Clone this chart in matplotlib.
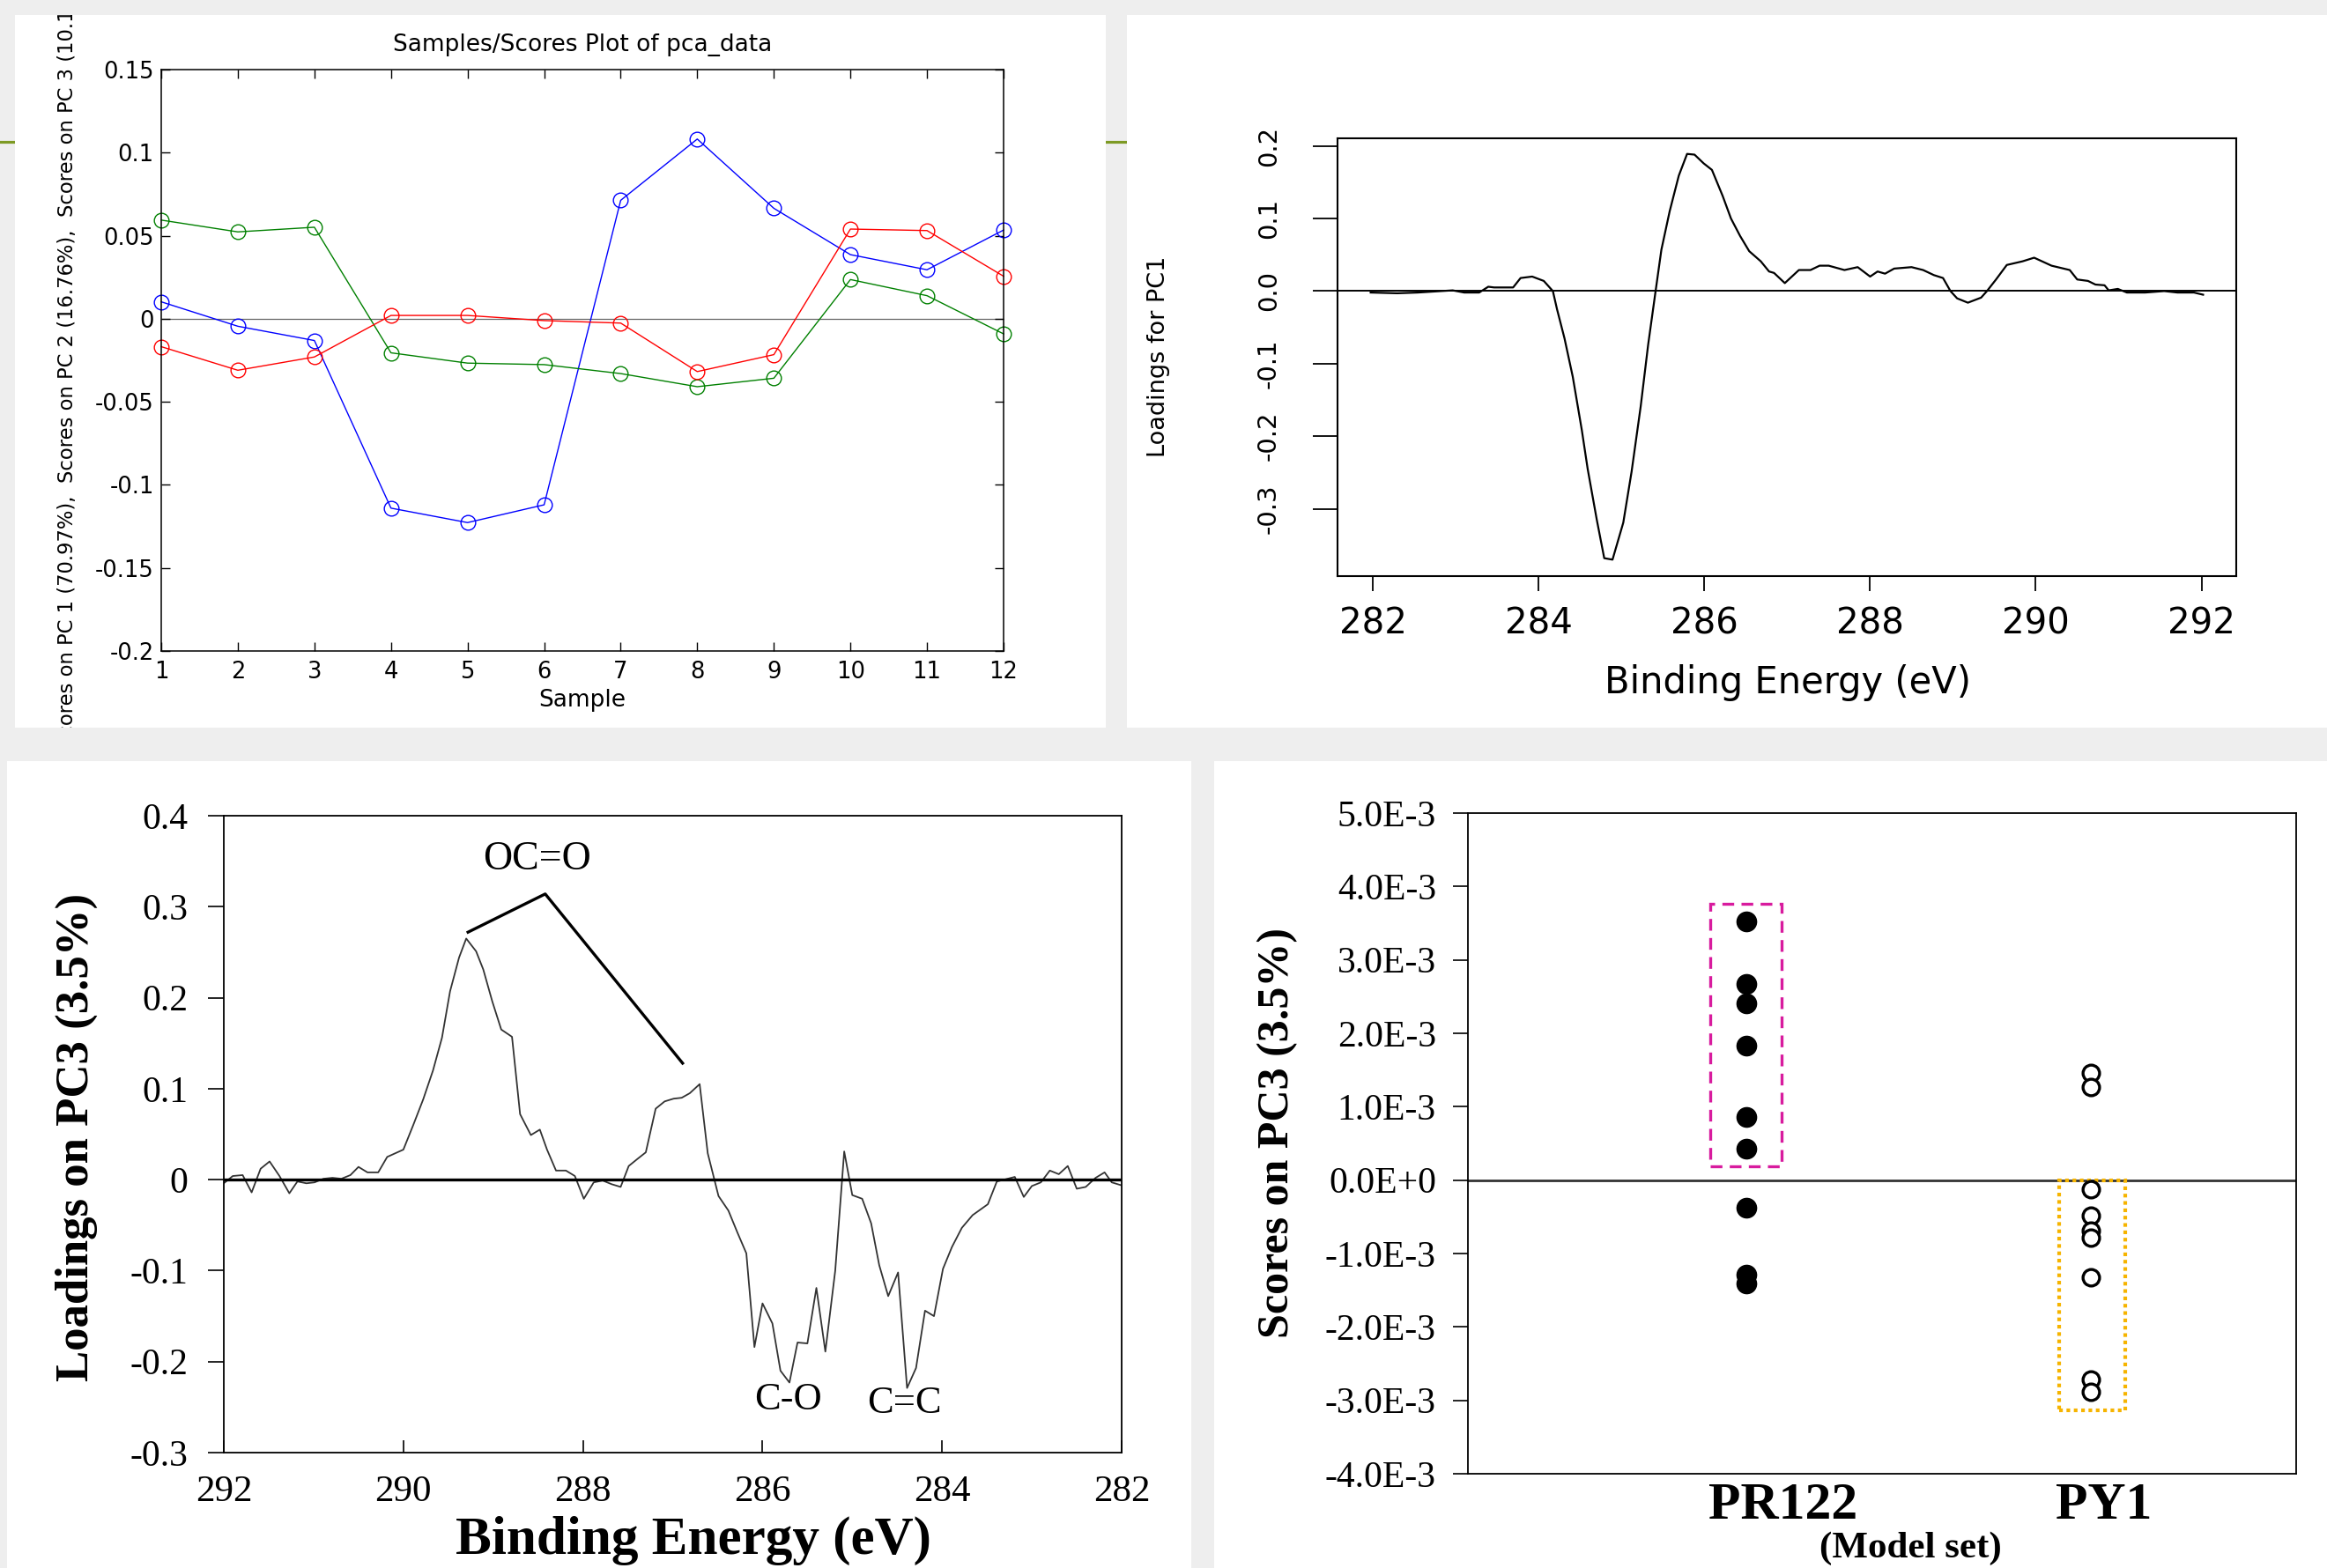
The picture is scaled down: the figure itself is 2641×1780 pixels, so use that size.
import matplotlib
matplotlib.use("Agg")
import matplotlib.pyplot as plt
from matplotlib.patches import Rectangle
from matplotlib.lines import Line2D
from matplotlib.transforms import Bbox, TransformedBbox

plt.rcParams['font.family'] = 'DejaVu Sans'
plt.rcParams['axes.unicode_minus'] = False

W, H = 2641, 1780

# --- panel 1: MATLAB scores plot
samples = list(range(1, 13))
pc1_scores = [0.0102, -0.0045, -0.0131, -0.114, -0.1227, -0.112, 0.0713, 0.1082, 0.0665, 0.0386, 0.0295, 0.0534]
pc2_scores = [0.0594, 0.0523, 0.0551, -0.0205, -0.0267, -0.0276, -0.033, -0.0409, -0.0358, 0.0236, 0.0139, -0.0091]
pc3_scores = [-0.0168, -0.031, -0.023, 0.002, 0.002, -0.0011, -0.0026, -0.0318, -0.0216, 0.054, 0.0531, 0.0256]
p1_yticks = [-0.2, -0.15, -0.1, -0.05, 0, 0.05, 0.1, 0.15]
p1_ylabels = ['-0.2', '-0.15', '-0.1', '-0.05', '0', '0.05', '0.1', '0.15']

# --- panel 2: PC1 loadings (R plot)
pc1_energy = [281.97, 282.29, 282.54, 282.96, 283.10, 283.28, 283.39, 283.46, 283.69, 283.78,
              283.92, 284.06, 284.17, 284.22, 284.31, 284.41, 284.52, 284.59, 284.70, 284.79,
              284.89, 285.02, 285.12, 285.23, 285.32, 285.41, 285.48, 285.58, 285.69, 285.79,
              285.88, 285.99, 286.09, 286.22, 286.32, 286.43, 286.54, 286.68, 286.78, 286.84,
              286.97, 287.14, 287.28, 287.39, 287.50, 287.69, 287.85, 288.00, 288.09, 288.18,
              288.29, 288.50, 288.64, 288.77, 288.88, 288.97, 289.05, 289.18, 289.34, 289.41,
              289.52, 289.65, 289.84, 289.98, 290.19, 290.41, 290.50, 290.63, 290.72, 290.83,
              290.88, 290.99, 291.10, 291.32, 291.55, 291.71, 291.91, 292.02]
pc1_loading = [-0.002, -0.003, -0.002, 0.001, -0.002, -0.002, 0.006, 0.005, 0.005, 0.018,
               0.020, 0.014, 0.000, -0.025, -0.065, -0.118, -0.192, -0.245, -0.315, -0.368,
               -0.370, -0.319, -0.249, -0.159, -0.074, 0.000, 0.057, 0.110, 0.159, 0.189,
               0.188, 0.176, 0.167, 0.131, 0.100, 0.076, 0.055, 0.041, 0.027, 0.025,
               0.011, 0.029, 0.029, 0.035, 0.035, 0.029, 0.033, 0.020, 0.027, 0.024,
               0.031, 0.033, 0.029, 0.022, 0.018, 0.000, -0.010, -0.016, -0.009, 0.000,
               0.016, 0.036, 0.041, 0.046, 0.035, 0.029, 0.016, 0.014, 0.009, 0.008,
               0.001, 0.003, -0.002, -0.002, 0.000, -0.002, -0.002, -0.005]
p2_yticks = [-0.3, -0.2, -0.1, 0.0, 0.1, 0.2]
p2_ylabels = ['-0.3', '-0.2', '-0.1', '0.0', '0.1', '0.2']

# --- panel 3: PC3 loadings (Excel plot)
pc3_energy = [292.00, 291.90, 291.79, 291.69, 291.59, 291.49, 291.38, 291.27, 291.18, 291.08,
              290.99, 290.89, 290.79, 290.69, 290.59, 290.50, 290.40, 290.28, 290.18, 290.00,
              289.89, 289.78, 289.67, 289.57, 289.48, 289.38, 289.30, 289.19, 289.11, 289.01,
              288.91, 288.79, 288.70, 288.58, 288.48, 288.40, 288.30, 288.19, 288.09, 287.99,
              287.88, 287.78, 287.68, 287.58, 287.49, 287.39, 287.30, 287.19, 287.09, 286.99,
              286.90, 286.81, 286.70, 286.61, 286.49, 286.38, 286.28, 286.18, 286.09, 286.00,
              285.89, 285.80, 285.70, 285.61, 285.50, 285.40, 285.30, 285.19, 285.09, 285.00,
              284.89, 284.79, 284.70, 284.60, 284.49, 284.39, 284.29, 284.19, 284.09, 283.99,
              283.89, 283.78, 283.66, 283.49, 283.39, 283.19, 283.09, 283.00, 282.90, 282.80,
              282.70, 282.60, 282.50, 282.40, 282.29, 282.19, 282.11, 282.01]
pc3_loading = [-0.004, 0.004, 0.005, -0.014, 0.012, 0.020, 0.004, -0.015, -0.002, -0.004,
               -0.003, 0.001, 0.002, 0.001, 0.005, 0.014, 0.008, 0.008, 0.025, 0.033,
               0.060, 0.088, 0.120, 0.156, 0.207, 0.244, 0.265, 0.251, 0.231, 0.196,
               0.165, 0.157, 0.072, 0.049, 0.055, 0.033, 0.010, 0.010, 0.004, -0.021,
               -0.003, -0.001, -0.005, -0.008, 0.015, 0.023, 0.030, 0.078, 0.086, 0.089,
               0.090, 0.095, 0.105, 0.029, -0.018, -0.034, -0.058, -0.081, -0.184, -0.136,
               -0.158, -0.210, -0.223, -0.179, -0.180, -0.119, -0.189, -0.100, 0.031, -0.017,
               -0.021, -0.048, -0.094, -0.128, -0.102, -0.229, -0.207, -0.144, -0.150, -0.098,
               -0.074, -0.053, -0.039, -0.027, -0.002, 0.003, -0.019, -0.007, -0.003, 0.010,
               0.006, 0.015, -0.010, -0.008, 0.002, 0.008, -0.003, -0.006]
ocoo_leader_x = [289.28, 288.42, 286.89]
ocoo_leader_y = [0.272, 0.314, 0.128]
p3_yticks = [-0.3, -0.2, -0.1, 0, 0.1, 0.2, 0.3, 0.4]
p3_ylabels = ['-0.3', '-0.2', '-0.1', '0', '0.1', '0.2', '0.3', '0.4']

# --- panel 4: PC3 scores per model set
groups = ['PR122', 'PY1']
pr122_scores = [3.52e-3, 2.67e-3, 2.41e-3, 1.83e-3, 0.86e-3, 0.43e-3, -0.38e-3, -1.29e-3, -1.41e-3]
py1_scores = [1.46e-3, 1.27e-3, -0.12e-3, -0.48e-3, -0.69e-3, -0.79e-3, -1.32e-3, -2.72e-3, -2.89e-3]
p4_yticks = [-4e-3, -3e-3, -2e-3, -1e-3, 0, 1e-3, 2e-3, 3e-3, 4e-3, 5e-3]
p4_ylabels = ['-4.0E-3', '-3.0E-3', '-2.0E-3', '-1.0E-3', '0.0E+0',
              '1.0E-3', '2.0E-3', '3.0E-3', '4.0E-3', '5.0E-3']

SERIF = 'Liberation Serif'

fig = plt.figure(figsize=(W / 100, H / 100), dpi=100)
fig.patch.set_facecolor('#eeeeee')


def fx(x):
    return x / W


def fy(y):
    return 1 - y / H


def px_axes(x0, y0, x1, y1):
    return fig.add_axes([fx(x0), fy(y1), (x1 - x0) / W, (y1 - y0) / H])


# slide decoration: olive rule and white picture frames
fig.add_artist(Line2D([0, 1], [fy(160.5), fy(160.5)], transform=fig.transFigure,
                      color='#7d9a24', lw=2.3, zorder=-10))
frames = [(17, 17, 1255, 826), (1279, 17, 2641, 826), (8, 864, 1352, 1780), (1378, 864, 2641, 1780)]
for x0, y0, x1, y1 in frames:
    fig.add_artist(Rectangle((fx(x0), fy(y1)), (x1 - x0) / W, (y1 - y0) / H,
                             transform=fig.transFigure, facecolor='white',
                             edgecolor='none', zorder=-5))

# ---------------- panel 1
ax1 = px_axes(183, 79, 1139, 739)
for vals, col in [(pc1_scores, 'blue'), (pc2_scores, 'green'), (pc3_scores, 'red')]:
    ax1.plot(samples, vals, '-o', color=col, mfc='none', ms=12, lw=1.0, mew=1.0, clip_on=False)
ax1.axhline(0, color='#666666', lw=0.9, zorder=0)
ax1.set_xlim(1, 12)
ax1.set_ylim(-0.2, 0.15)
ax1.set_xticks(samples, [str(s) for s in samples], fontsize=18.5)
ax1.set_yticks(p1_yticks, p1_ylabels, fontsize=18.5)
ax1.tick_params(direction='in', top=True, right=True, length=7, width=1.0)
ax1.tick_params(axis='x', pad=8)
ax1.tick_params(axis='y', pad=6)
for sp in ax1.spines.values():
    sp.set_linewidth(1.1)
fig.text(fx(661), fy(51), 'Samples/Scores Plot of pca_data', ha='center', va='center', fontsize=19)
fig.text(fx(661), fy(795), 'Sample', ha='center', va='center', fontsize=19)
yl = fig.text(fx(77), fy(408), 'Scores on PC 1 (70.97%),  Scores on PC 2 (16.76%),  Scores on PC 3 (10.16%)',
              ha='center', va='center', rotation=90, fontsize=16.3)
yl.set_clip_box(TransformedBbox(Bbox.from_extents(fx(17), fy(826), fx(1255), fy(17)), fig.transFigure))
yl.set_clip_on(True)

# ---------------- panel 2
ax2 = px_axes(1518, 157, 2538, 654)
ax2.plot(pc1_energy, pc1_loading, color='black', lw=1.6)
ax2.axhline(0, color='black', lw=1.4)
ax2.set_xlim(281.57, 292.42)
ax2.set_ylim(-0.3927, 0.2105)
ax2.set_xticks(range(282, 293, 2), [str(v) for v in range(282, 293, 2)], fontsize=29)
ax2.set_yticks(p2_yticks, p2_ylabels, fontsize=21, rotation=90, va='center')
ax2.tick_params(axis='x', length=12, width=1.3, pad=13)
ax2.tick_params(axis='y', length=20, width=1.3, pad=26)
for sp in ax2.spines.values():
    sp.set_linewidth(1.5)
fig.text(fx(1315), fy(405), 'Loadings for PC1', ha='center', va='center', rotation=90, fontsize=19.5)
fig.text(fx(2029), fy(775), 'Binding Energy (eV)', ha='center', va='center', fontsize=30)

# ---------------- panel 3
ax3 = px_axes(254, 926, 1273, 1649)
ax3.plot(pc3_energy, pc3_loading, color='#333333', lw=1.3)
ax3.axhline(0, color='black', lw=2.4)
ax3.plot(ocoo_leader_x, ocoo_leader_y, color='black', lw=2.4)
ax3.text(288.51, 0.352, 'OC=O', ha='center', va='center', fontsize=33, family=SERIF)
ax3.text(285.71, -0.242, 'C-O', ha='center', va='center', fontsize=32, family=SERIF)
ax3.text(284.42, -0.246, 'C=C', ha='center', va='center', fontsize=32, family=SERIF)
ax3.set_xlim(292, 282)
ax3.set_ylim(-0.3, 0.4)
ax3.set_xticks(range(292, 281, -2), [str(v) for v in range(292, 281, -2)], fontsize=31, family=SERIF)
ax3.set_yticks(p3_yticks, p3_ylabels, fontsize=30, family=SERIF)
ax3.tick_params(axis='x', direction='in', length=10, width=1.2, pad=18)
ax3.tick_params(axis='y', direction='out', length=13, width=1.2, pad=16)
for sp in ax3.spines.values():
    sp.set_linewidth(1.3)
fig.text(fx(87), fy(1291), 'Loadings on PC3 (3.5%)', ha='center', va='center', rotation=90,
         fontsize=38, fontweight='bold', family=SERIF)
fig.text(fx(787), fy(1749), 'Binding Energy (eV)', ha='center', va='center',
         fontsize=44, fontweight='bold', family=SERIF)

# ---------------- panel 4
ax4 = px_axes(1666, 923, 2606, 1673)
ax4.plot([1] * len(pr122_scores), pr122_scores, 'o', color='black', ms=16)
ax4.plot([2] * len(py1_scores), py1_scores, 'o', mfc='white', mec='black', ms=13.5, mew=2.4)
ax4.axhline(0, color='#333333', lw=2.0, zorder=1)
# groupings drawn around the data
pos = [v for v in pr122_scores if v > 0]
neg = [v for v in py1_scores if v < 0]
m = 0.24e-3
ax4.add_patch(Rectangle((0.895, min(pos) - m), 0.208, max(pos) - min(pos) + 2 * m,
                        fill=False, ls=(0, (4, 2.5)), ec='#d81b9e', lw=2.4))
ax4.add_patch(Rectangle((1.907, min(neg) - m), 0.191, -min(neg) + m,
                        fill=False, ls=(0, (1, 1)), ec='#f6b400', lw=3.0))
ax4.set_xlim(0.193, 2.594)
ax4.set_ylim(-4e-3, 5e-3)
ax4.set_yticks(p4_yticks, p4_ylabels, fontsize=30, family=SERIF)
ax4.set_xticks([1.107, 2.037], groups, fontsize=43, fontweight='bold', family=SERIF)
ax4.tick_params(axis='x', length=0, pad=7)
ax4.tick_params(axis='y', direction='out', length=12, width=1.2, pad=14)
for sp in ax4.spines.values():
    sp.set_linewidth(1.3)
fig.text(fx(2168), fy(1758), '(Model set)', ha='center', va='center',
         fontsize=31, fontweight='bold', family=SERIF)
fig.text(fx(1450), fy(1286), 'Scores on PC3 (3.5%)', ha='center', va='center', rotation=90,
         fontsize=36, fontweight='bold', family=SERIF)

fig.savefig('out.png', dpi=100, facecolor=fig.get_facecolor())
